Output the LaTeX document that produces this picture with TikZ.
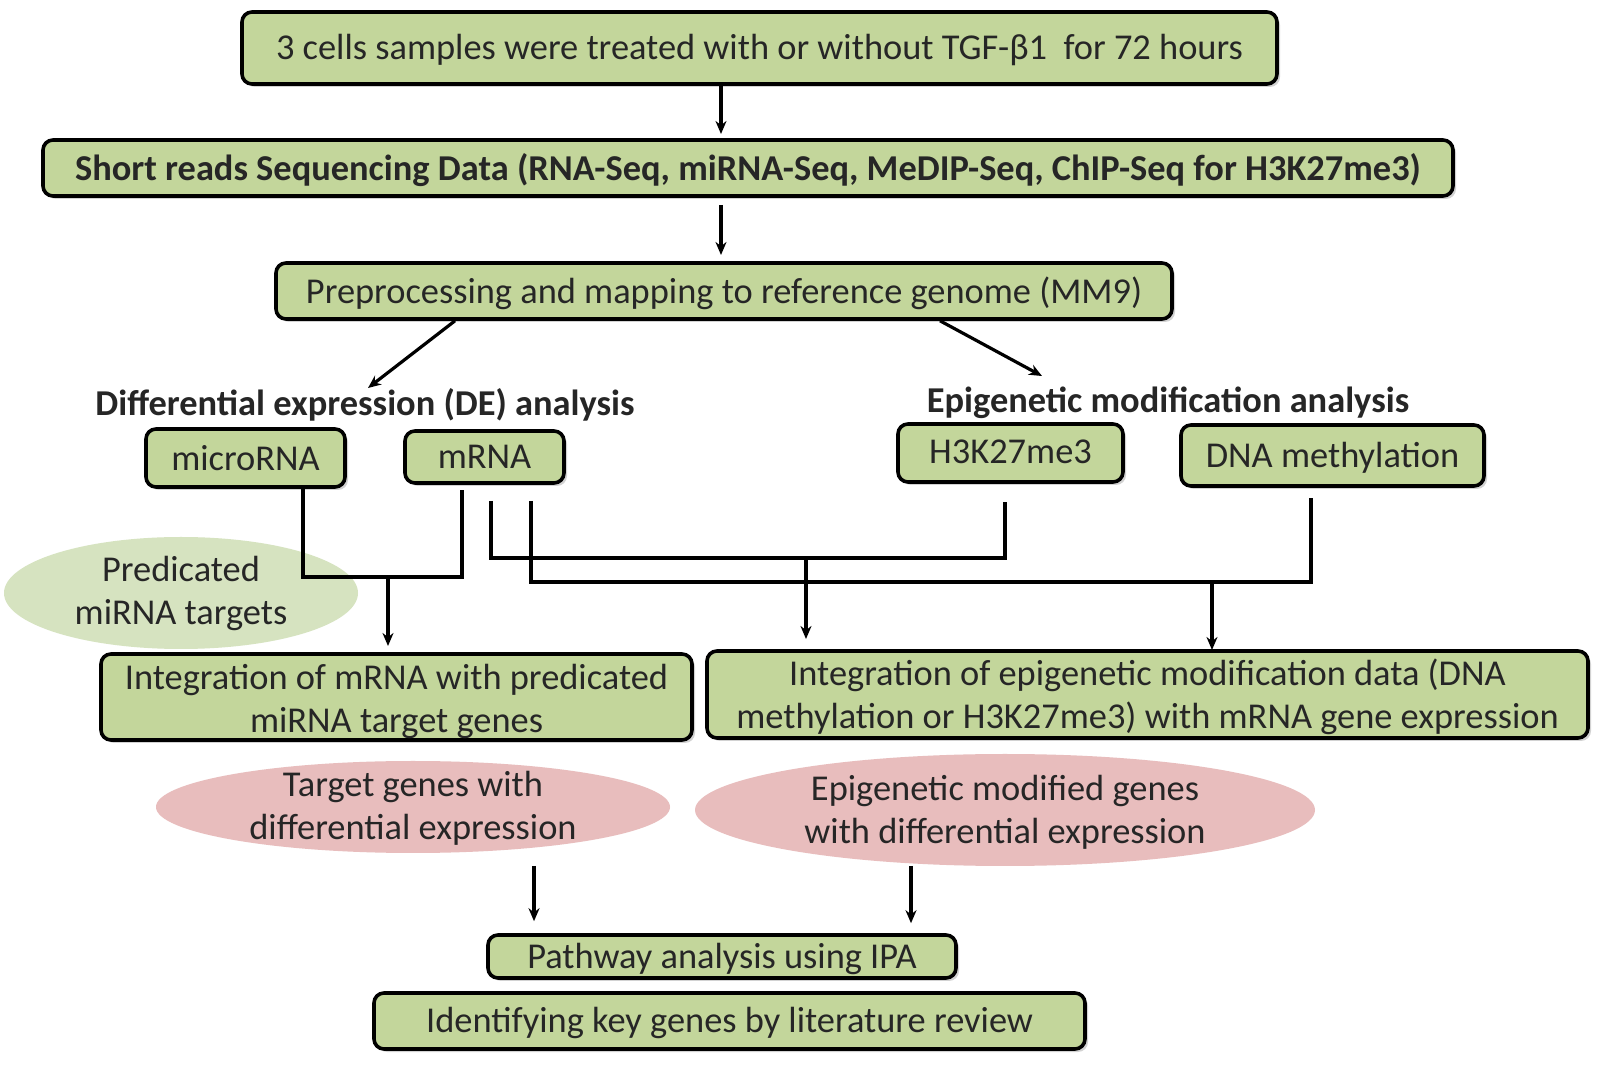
\documentclass[tikz,border=0pt]{standalone}
\usepackage{fontspec}
\setmainfont{Carlito}
\usetikzlibrary{shadows,arrows.meta,shapes.geometric}
\definecolor{boxgreen}{HTML}{C3D69B}
\definecolor{lightgreen}{HTML}{D6E3C0}
\definecolor{pinkfill}{HTML}{E8BDBD}
\definecolor{txt}{HTML}{262626}
\tikzset{
  gbox/.style={draw=black, line width=1.8pt, rounded corners=5pt, fill=boxgreen,
    text=txt, inner sep=0pt, align=center,
    drop shadow={opacity=0.35, shadow xshift=1.5pt, shadow yshift=-1.5pt}},
  oneline/.style={text depth=1pt},
  blob/.style={ellipse, inner sep=0pt, text=txt, align=center},
  conn/.style={draw=black, line width=1.6pt},
  arr/.style={conn, -{Stealth[length=6.5pt,width=5.5pt]}},
  fnt/.style={font=\fontsize{18.2}{21.5}\selectfont},
  bfnt/.style={font=\fontsize{18.2}{21.5}\selectfont\bfseries},
}
\begin{document}
\begin{tikzpicture}[x=0.5pt,y=-0.5pt]
\useasboundingbox[fill=white] (0,0) rectangle (1602,1068);

% ellipses (drawn first; lines go over)
\node[blob, fill=lightgreen, minimum width=177pt, minimum height=56pt, fnt] (pred) at (181,593) {Predicated\\miRNA targets};

% boxes
\node[gbox, oneline, fnt, minimum width=517.5pt, minimum height=36pt] (top) at (759.5,48) {3 cells samples were treated with or without TGF-β1\ \ for 72 hours};
\node[gbox, oneline, bfnt, minimum width=705pt, minimum height=28pt] (seq) at (748,168) {Short reads Sequencing Data (RNA-Seq, miRNA-Seq, MeDIP-Seq, ChIP-Seq for H3K27me3)};
\node[gbox, oneline, fnt, minimum width=448pt, minimum height=28pt] (prep) at (724,291) {Preprocessing and mapping to reference genome (MM9)};

\node[bfnt, text=txt, inner sep=1pt] (de) at (365,405) {Differential expression (DE) analysis};
\node[bfnt, text=txt, inner sep=1pt] (epi) at (1168,403) {Epigenetic modification analysis};

\node[gbox, fnt, minimum width=99.5pt, minimum height=29pt] (mirna) at (245.5,458) {microRNA};
\node[gbox, fnt, minimum width=79.5pt, minimum height=26pt] (mrna) at (484.5,457) {mRNA};
\node[gbox, oneline, fnt, minimum width=112.5pt, minimum height=29pt] (h3k) at (1010.5,453) {H3K27me3};
\node[gbox, oneline, fnt, minimum width=151.5pt, minimum height=30.5pt] (dna) at (1332.5,455.5) {DNA methylation};

\node[gbox, minimum width=295.5pt, minimum height=43pt] (intl) at (396.5,697) {};
\node[fnt, text=txt, align=center] (intlt) at (396.5,701) {Integration of mRNA with predicated\\miRNA target genes};
\node[gbox, minimum width=440.5pt, minimum height=43.5pt] (intr) at (1147.5,694.5) {};
\node[fnt, text=txt, align=center] (intrt) at (1147.5,697) {Integration of epigenetic modification data (DNA\\methylation or H3K27me3) with mRNA gene expression};

\node[blob, fill=pinkfill, minimum width=257pt, minimum height=46pt, fnt] (pinkl) at (413,807) {};
\node[fnt, text=txt, align=center] (pinklt) at (413,808) {Target genes with\\differential expression};
\node[blob, fill=pinkfill, minimum width=310pt, minimum height=56pt, fnt] (pinkr) at (1005,810) {};
\node[fnt, text=txt, align=center] (pinkrt) at (1005,812) {Epigenetic modified genes\\with differential expression};

\node[gbox, oneline, fnt, minimum width=234pt, minimum height=21.5pt] (path) at (722,956.5) {Pathway analysis using IPA};
\node[gbox, oneline, fnt, minimum width=355.5pt, minimum height=28pt] (ident) at (729.5,1021) {Identifying key genes by literature review};

% coordinates for connector routing
\coordinate (c1) at (721,134);
\coordinate (c2) at (721,255);
\coordinate (dtip) at (368,388);
\coordinate (etip) at (1042,376);
\coordinate (j1) at (388,577);
\coordinate (j1b) at (388,646);
\coordinate (j2) at (806,558);
\coordinate (j2b) at (806,639);
\coordinate (j3) at (1212,582);
\coordinate (j3b) at (1212,650);

% connectors
\draw[arr] (top.south -| c1) -- (c1);
\draw[arr] (c2 |- seq.south) ++(0,7) -- (c2);
\draw[arr] (prep.south -| 455,0) -- (dtip);
\draw[arr] (prep.south -| 940,0) -- (etip);

\draw[conn] (mirna.south -| 303,0) -- (303,577) -- (462,577) -- ([yshift=-2.5pt]mrna.south -| 462,0);
\draw[arr] (j1) -- (j1b);

\draw[conn] ([yshift=-8pt]mrna.south -| 491,0) -- (491,558) -- (1005,558) -- ([yshift=-9pt]h3k.south -| 1005,0);
\draw[arr] (j2) -- (j2b);

\draw[conn] ([yshift=-8pt]mrna.south -| 531,0) -- (531,582) -- (1311,582) -- ([yshift=-5pt]dna.south -| 1311,0);
\draw[arr] (j3) -- (j3b);

\draw[arr] (534,866) -- ([yshift=6pt]path.north -| 534,0);
\draw[arr] (911,866) -- ([yshift=5pt]path.north -| 911,0);
\end{tikzpicture}
\end{document}
